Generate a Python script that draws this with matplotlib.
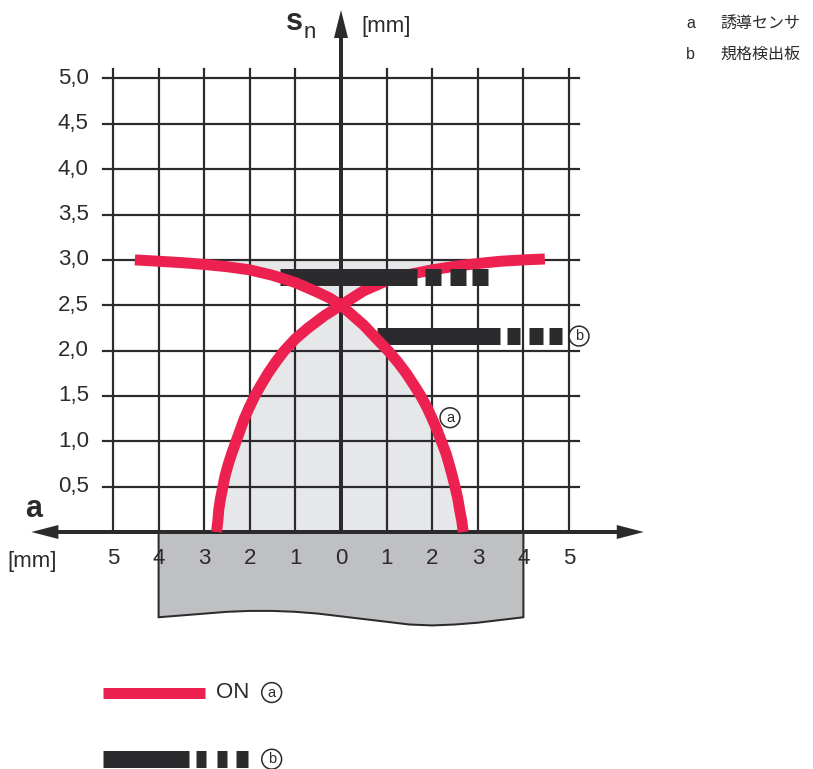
import numpy as np
import matplotlib.pyplot as plt

plt.rcParams['font.family'] = ['Liberation Sans', 'DejaVu Sans']

# ---- data (mm) ----
# red curve 1: rises from the left foot, through the crossing, to the right
rise_left_x = [-2.73, -2.70, -2.68, -2.64, -2.59, -2.54, -2.47, -2.39, -2.30, -2.21, -2.12,
               -2.01, -1.89, -1.75, -1.60, -1.43, -1.24, -1.00, -0.72, -0.35, 0.0]
rise_left_y = [0.0, 0.125, 0.25, 0.375, 0.5, 0.625, 0.75, 0.875, 1.0, 1.125, 1.25,
               1.375, 1.5, 1.625, 1.75, 1.875, 2.0, 2.13, 2.25, 2.39, 2.5]
rise_right_x = [0.0, 0.5, 1.0, 1.5, 2.0, 2.5, 3.0, 3.5, 4.0, 4.47]
rise_right_y = [2.5, 2.66, 2.77, 2.84, 2.89, 2.93, 2.96, 2.985, 3.0, 3.01]
# red curve 2: falls from the top left, through the crossing, to the right foot
fall_left_x = [-4.52, -4.0, -3.5, -3.0, -2.5, -2.0, -1.5, -1.0, -0.5, -0.25, 0.0]
fall_left_y = [3.0, 2.985, 2.97, 2.95, 2.925, 2.89, 2.83, 2.75, 2.64, 2.58, 2.5]
fall_right_x = [0.0, 0.5, 0.8, 1.03, 1.25, 1.43, 1.6, 1.75, 1.89, 2.0, 2.11, 2.2, 2.3,
                2.37, 2.44, 2.5, 2.56, 2.6, 2.65, 2.68]
fall_right_y = [2.5, 2.28, 2.12, 2.0, 1.87, 1.75, 1.62, 1.5, 1.37, 1.25, 1.12, 1.0, 0.87,
                0.75, 0.62, 0.5, 0.37, 0.25, 0.12, 0.0]

# black standard-target bars: (height, solid part, three dashes)
bar_a_y = 2.81
bar_a_solid = (-1.33, 1.67)
bar_a_dashes = [(1.85, 2.19), (2.40, 2.74), (2.88, 3.22)]
bar_b_y = 2.16
bar_b_solid = (0.80, 3.48)
bar_b_dashes = [(3.64, 3.93), (4.13, 4.42), (4.56, 4.85)]

# plate under the sensor, wavy bottom edge
plate_x = [-4, -3.5, -3, -2.5, -2, -1.5, -1, -0.5, 0, 0.5, 1, 1.5, 2, 2.5, 3, 3.5, 4]
plate_y = [-0.94, -0.92, -0.90, -0.88, -0.87, -0.87, -0.88, -0.90, -0.93, -0.96, -0.99,
           -1.02, -1.03, -1.02, -1.0, -0.97, -0.94]

x_ticks = [-5, -4, -3, -2, -1, 0, 1, 2, 3, 4, 5]
x_labels = ['5', '4', '3', '2', '1', '0', '1', '2', '3', '4', '5']
y_ticks = [0.5, 1.0, 1.5, 2.0, 2.5, 3.0, 3.5, 4.0, 4.5, 5.0]
y_labels = ['0,5', '1,0', '1,5', '2,0', '2,5', '3,0', '3,5', '4,0', '4,5', '5,0']

legend_keys = ['a', 'b']
legend_texts = ['誘導センサ', '規格検出板']

# ---- style ----
RED = '#ec2150'
BLACK = '#2b2a2c'
FILL = '#e6e7e9'
PLATE = '#bfc0c2'
PX = 72 / 100  # points per pixel

fig = plt.figure(figsize=(8.13, 7.69), dpi=100)
ax = fig.add_axes([0, 0, 1, 1])
UX, UY = 45.6, 90.7   # pixels per mm
ax.set_xlim(-341 / UX, (813 - 341) / UX)
ax.set_ylim((532 - 769) / UY, 532 / UY)
ax.axis('off')

# grey switching area
ax.fill(rise_left_x + fall_right_x, rise_left_y + fall_right_y, color=FILL, lw=0, zorder=1)
ax.fill(fall_left_x + rise_right_x, fall_left_y + rise_right_y, color=FILL, lw=0, zorder=1)

# grid
for xv in x_ticks:
    if xv != 0:
        ax.plot([xv, xv], [0, 5.11], color=BLACK, lw=2.2 * PX, zorder=2)
for yv in y_ticks:
    ax.plot([-5.22, 5.22], [yv, yv], color=BLACK, lw=2.2 * PX, zorder=2)

# plate
ax.fill([-4] + plate_x + [4], [0] + plate_y + [0], facecolor=PLATE, edgecolor=BLACK,
        lw=2 * PX, zorder=2)

# axes with arrow heads
ax.plot([-6.2, 6.05], [0, 0], color=BLACK, lw=4 * PX, zorder=3, solid_capstyle='butt')
ax.plot([0, 0], [0, 5.5], color=BLACK, lw=4 * PX, zorder=3, solid_capstyle='butt')
hl, hw = 27 / UX, 7 / UY
ax.fill([-6.79, -6.79 + hl, -6.79 + hl], [0, hw, -hw], color=BLACK, lw=0, zorder=3)
ax.fill([6.64, 6.64 - hl, 6.64 - hl], [0, hw, -hw], color=BLACK, lw=0, zorder=3)
vl, vw = 28 / UY, 7 / UX
ax.fill([0, -vw, vw], [5.755, 5.755 - vl, 5.755 - vl], color=BLACK, lw=0, zorder=3)

# red curves and black bars
ax.plot(rise_left_x + rise_right_x[1:], rise_left_y + rise_right_y[1:], color=RED,
        lw=11 * PX, solid_capstyle='butt', solid_joinstyle='round', zorder=4)


def bar(y, solid, dashes, z):
    ax.plot(solid, [y, y], color=BLACK, lw=17 * PX, solid_capstyle='butt', zorder=z)
    for d in dashes:
        ax.plot(d, [y, y], color=BLACK, lw=17 * PX, solid_capstyle='butt', zorder=z)


bar(bar_a_y, bar_a_solid, bar_a_dashes, 5)
bar(bar_b_y, bar_b_solid, bar_b_dashes, 5)
ax.plot(fall_left_x + fall_right_x[1:], fall_left_y + fall_right_y[1:], color=RED,
        lw=11 * PX, solid_capstyle='butt', solid_joinstyle='round', zorder=6)


def circled(x, y, s):
    ax.text(x, y, s, ha='center', va='center', fontsize=10.5, color=BLACK, zorder=7,
            bbox=dict(boxstyle='circle,pad=0.2', fc='white', ec=BLACK, lw=1.1))


circled(2.39, 1.26, 'a')
circled(5.22, bar_b_y, 'b')

# tick labels
for yv, lab in zip(y_ticks, y_labels):
    ax.text(-5.53, yv, lab, ha='right', va='center', fontsize=16, color=BLACK)
for xv, lab in zip(x_ticks, x_labels):
    ax.text(xv, -0.29, lab, ha='center', va='center', fontsize=16, color=BLACK, zorder=8)

# axis titles
ax.text(-6.73, 0.25, 'a', ha='center', va='center', fontsize=22, fontweight='bold', color=BLACK)
ax.text(-7.32, -0.33, '[mm]', ha='left', va='center', fontsize=16, color=BLACK)
ax.text(-1.2, 5.53, 's', ha='left', va='baseline', fontsize=22, fontweight='bold', color=BLACK)
ax.text(-0.82, 5.45, 'n', ha='left', va='baseline', fontsize=16, color=BLACK)
ax.text(0.45, 5.57, '[mm]', ha='left', va='center', fontsize=16, color=BLACK)

# key at top right
for i, (k, t) in enumerate(zip(legend_keys, legend_texts)):
    yk = 5.61 - i * 0.345
    ax.text(7.57, yk, k, ha='left', va='center', fontsize=11.5, color=BLACK)
    ax.text(8.31, yk, t, ha='left', va='center', fontsize=11.5, color=BLACK,
            family=['Noto Sans CJK JP', 'DejaVu Sans'])

# legend at bottom
ax.plot([-5.22, -2.98], [-1.77, -1.77], color=RED, lw=11 * PX, solid_capstyle='butt')
ax.text(-2.74, -1.77, 'ON', ha='left', va='center', fontsize=16, color=BLACK)
circled(-1.52, -1.77, 'a')
bar(-2.505, (-5.22, -3.33), [(-3.18, -2.95), (-2.72, -2.51), (-2.30, -2.04)], 5)
circled(-1.52, -2.505, 'b')

plt.savefig('out.png', dpi=100)
